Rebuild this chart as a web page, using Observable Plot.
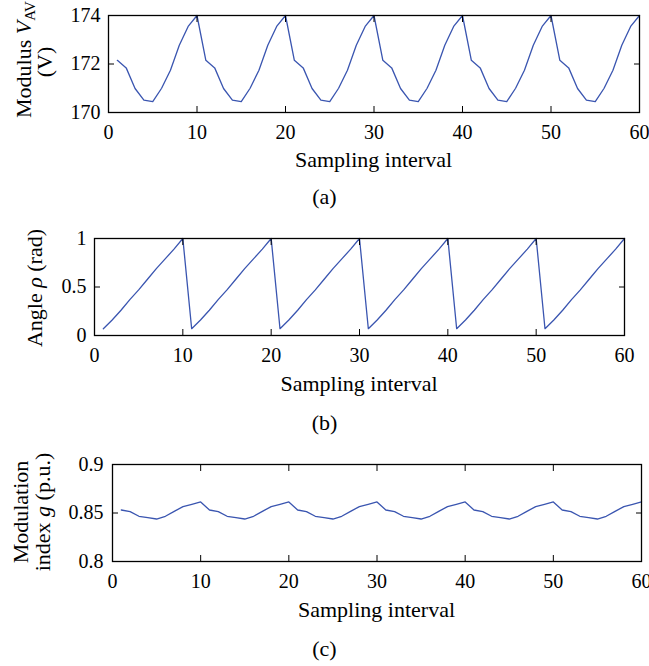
<!DOCTYPE html>
<html>
<head>
<meta charset="utf-8">
<script src="https://cdn.jsdelivr.net/npm/d3@7"></script>
<script src="https://cdn.jsdelivr.net/npm/@observablehq/plot@0.6"></script>
<style>
  html, body { margin: 0; padding: 0; background: #fff; }
  #root { position: relative; width: 649px; height: 666px; overflow: hidden; font-family: 'Liberation Serif', serif; }
  .panel { position: absolute; left: 0; }
</style>
</head>
<body>
<div id="root"></div>
<script>
// ---- data ----
const sampling = [1,2,3,4,5,6,7,8,9,10,11,12,13,14,15,16,17,18,19,20,21,22,23,24,25,26,27,28,29,30,
  31,32,33,34,35,36,37,38,39,40,41,42,43,44,45,46,47,48,49,50,51,52,53,54,55,56,57,58,59,60];

const modulusVav = [
  172.15,171.84,170.99,170.51,170.45,171.00,171.74,172.77,173.55,174.00,
  172.15,171.84,170.99,170.51,170.45,171.00,171.74,172.77,173.55,174.00,
  172.15,171.84,170.99,170.51,170.45,171.00,171.74,172.77,173.55,174.00,
  172.15,171.84,170.99,170.51,170.45,171.00,171.74,172.77,173.55,174.00,
  172.15,171.84,170.99,170.51,170.45,171.00,171.74,172.77,173.55,174.00,
  172.15,171.84,170.99,170.51,170.45,171.00,171.74,172.77,173.55,174.00
];

const angleRho = [
  0.07,0.16,0.26,0.37,0.47,0.58,0.69,0.79,0.89,1.00,
  0.07,0.16,0.26,0.37,0.47,0.58,0.69,0.79,0.89,1.00,
  0.07,0.16,0.26,0.37,0.47,0.58,0.69,0.79,0.89,1.00,
  0.07,0.16,0.26,0.37,0.47,0.58,0.69,0.79,0.89,1.00,
  0.07,0.16,0.26,0.37,0.47,0.58,0.69,0.79,0.89,1.00,
  0.07,0.16,0.26,0.37,0.47,0.58,0.69,0.79,0.89,1.00
];

const modIndexG = [
  0.8531,0.8514,0.8466,0.8452,0.8438,0.8466,0.8517,0.8566,0.8590,0.8614,
  0.8531,0.8514,0.8466,0.8452,0.8438,0.8466,0.8517,0.8566,0.8590,0.8614,
  0.8531,0.8514,0.8466,0.8452,0.8438,0.8466,0.8517,0.8566,0.8590,0.8614,
  0.8531,0.8514,0.8466,0.8452,0.8438,0.8466,0.8517,0.8566,0.8590,0.8614,
  0.8531,0.8514,0.8466,0.8452,0.8438,0.8466,0.8517,0.8566,0.8590,0.8614,
  0.8531,0.8514,0.8466,0.8452,0.8438,0.8466,0.8517,0.8566,0.8590,0.8614
];

const xTicks = [0,10,20,30,40,50,60];
const vTicks = [170,172,174];
const rhoTicks = [0,0.5,1];
const gTicks = [0.8,0.85,0.9];
const xLabel = "Sampling interval";
const captions = ["(a)", "(b)", "(c)"];

const LINE = "#3a55b0";
const root = document.getElementById("root");

function panel(cfg) {
  const data = sampling.map((s, i) => ({s, v: cfg.values[i]}));
  const svg = Plot.plot({
    width: 649,
    height: cfg.height,
    marginTop: cfg.mt, marginBottom: cfg.mb, marginLeft: cfg.ml, marginRight: cfg.mr,
    style: {fontFamily: "'Liberation Serif', serif", fontSize: "20px", color: "#000", background: "transparent", overflow: "visible"},
    x: {domain: [0, 60]},
    y: {domain: cfg.domain},
    marks: [
      Plot.line(data, {x: "s", y: "v", stroke: LINE, strokeWidth: 1.3}),
      Plot.frame({stroke: "#000", strokeWidth: 1.3}),
      Plot.axisX(xTicks, {anchor: "bottom", tickSize: 0, tickPadding: 12, label: null, tickFormat: d => String(d)}),
      Plot.axisX(xTicks, {anchor: "bottom", tickSize: -6, fill: "none", label: null}),
      Plot.axisX(xTicks, {anchor: "top", tickSize: -6, fill: "none", label: null}),
      Plot.axisY(cfg.ticks, {anchor: "left", tickSize: 0, tickPadding: cfg.yPad, label: null, tickFormat: d => String(d)}),
      Plot.axisY(cfg.ticks, {anchor: "left", tickSize: -6, fill: "none", label: null}),
      Plot.axisY(cfg.ticks, {anchor: "right", tickSize: -6, fill: "none", label: null})
    ]
  });
  const s = d3.select(svg);
  // x axis title
  s.append("text")
    .attr("x", (cfg.ml + 649 - cfg.mr) / 2).attr("y", cfg.xLabelY)
    .attr("text-anchor", "middle").attr("font-size", 22).attr("fill", "#000")
    .text(xLabel);
  // caption
  s.append("text")
    .attr("x", 324.5).attr("y", cfg.capY)
    .attr("text-anchor", "middle").attr("font-size", 22).attr("fill", "#000")
    .text(cfg.caption);
  cfg.yLabel(s);
  const div = document.createElement("div");
  div.className = "panel";
  div.style.top = cfg.top + "px";
  div.appendChild(svg);
  root.appendChild(div);
}

// (a)
panel({
  values: modulusVav, domain: [170, 174], ticks: vTicks,
  top: 0, height: 215, mt: 15, mb: 103, ml: 108, mr: 10, yPad: 8,
  xLabelY: 167, capY: 204, caption: captions[0],
  yLabel: s => {
    const t1 = s.append("text")
      .attr("transform", "translate(31,118) rotate(-90)")
      .attr("text-anchor", "start").attr("font-size", 22).attr("fill", "#000");
    t1.append("tspan").text("Modulus ");
    t1.append("tspan").attr("font-style", "italic").text("V");
    t1.append("tspan").attr("font-size", 15).attr("dy", 4).text("AV");
    s.append("text")
      .attr("transform", "translate(52,62) rotate(-90)")
      .attr("text-anchor", "middle").attr("font-size", 22).attr("fill", "#000")
      .text("(V)");
  }
});

// (b)
panel({
  values: angleRho, domain: [0, 1], ticks: rhoTicks,
  top: 220, height: 220, mt: 18, mb: 105, ml: 94, mr: 25, yPad: 8,
  xLabelY: 171, capY: 210, caption: captions[1],
  yLabel: s => {
    const t = s.append("text")
      .attr("transform", "translate(42,68) rotate(-90)")
      .attr("text-anchor", "middle").attr("font-size", 22).attr("fill", "#000");
    t.append("tspan").text("Angle ");
    t.append("tspan").attr("font-style", "italic").text("ρ");
    t.append("tspan").text(" (rad)");
  }
});

// (c)
panel({
  values: modIndexG, domain: [0.8, 0.9], ticks: gTicks,
  top: 440, height: 226, mt: 24, mb: 105, ml: 112, mr: 8, yPad: 9,
  xLabelY: 177, capY: 216, caption: captions[2],
  yLabel: s => {
    s.append("text")
      .attr("transform", "translate(28,72) rotate(-90)")
      .attr("text-anchor", "middle").attr("font-size", 22).attr("fill", "#000")
      .text("Modulation");
    const t = s.append("text")
      .attr("transform", "translate(50,72) rotate(-90)")
      .attr("text-anchor", "middle").attr("font-size", 22).attr("fill", "#000");
    t.append("tspan").text("index ");
    t.append("tspan").attr("font-style", "italic").text("g");
    t.append("tspan").text(" (p.u.)");
  }
});
</script>
</body>
</html>
